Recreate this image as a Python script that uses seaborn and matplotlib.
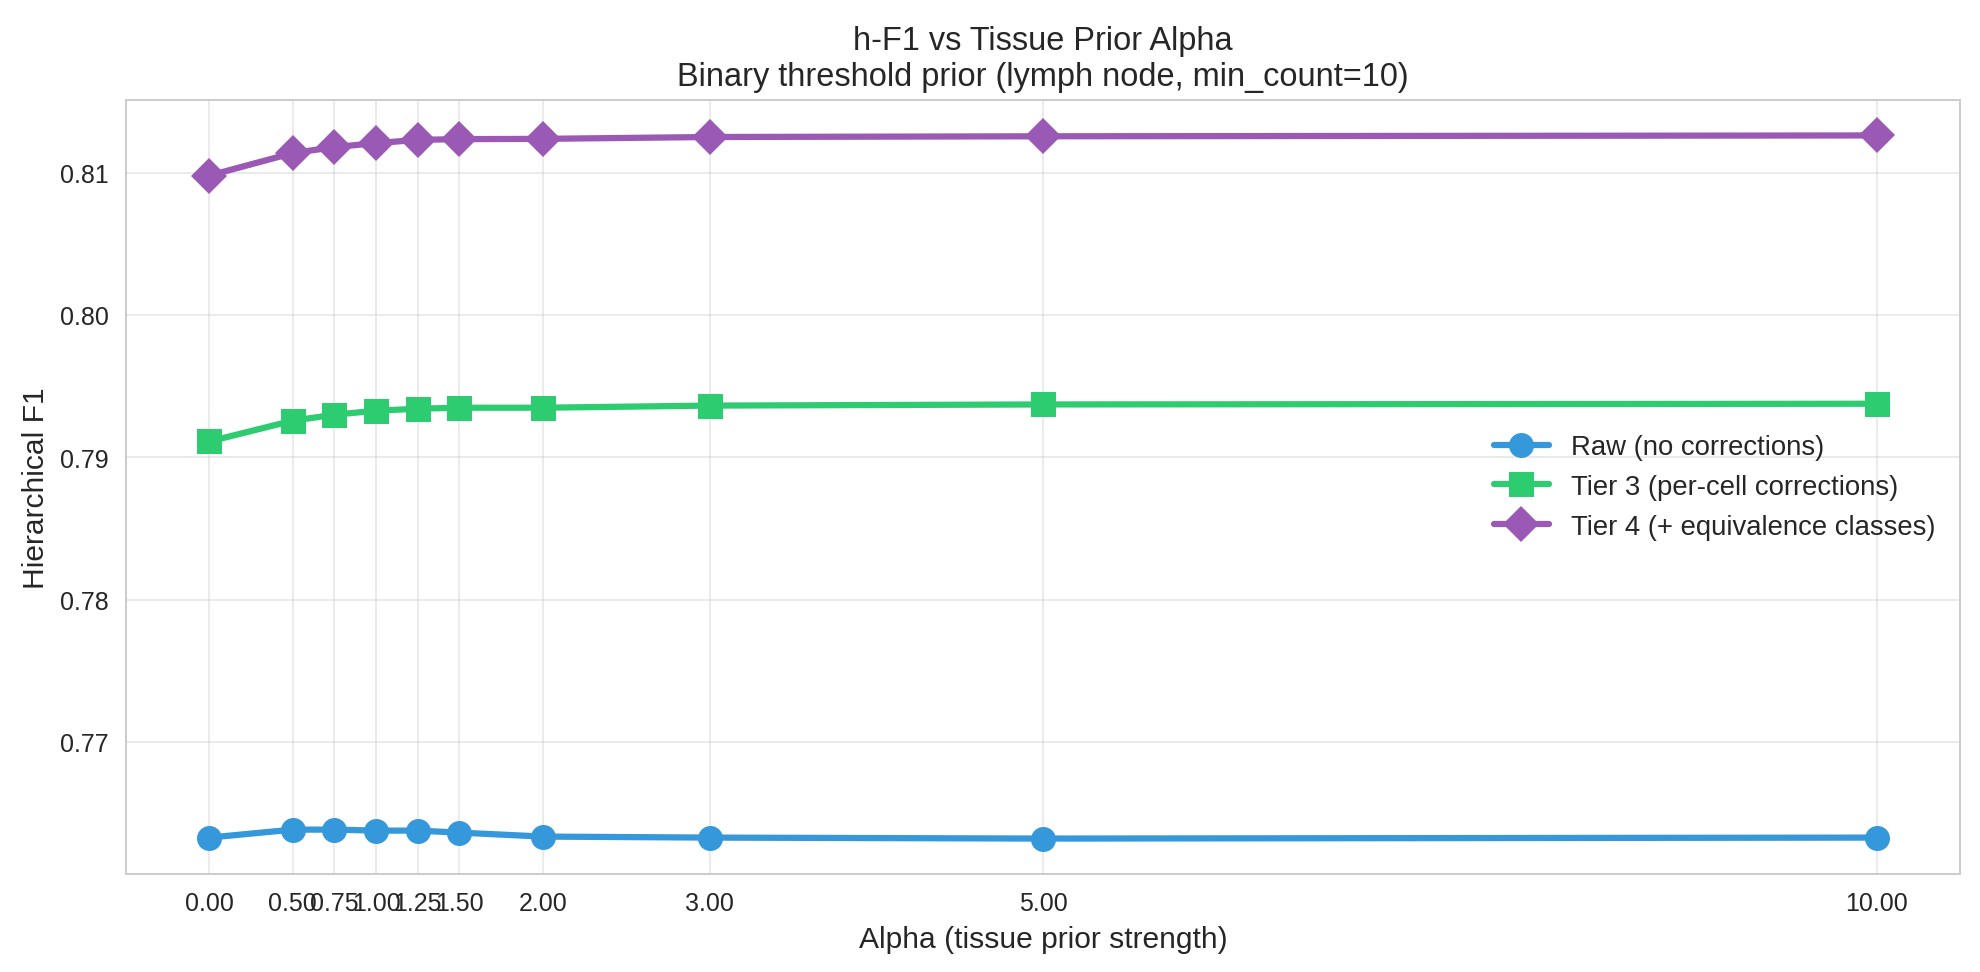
import seaborn as sns
import matplotlib.pyplot as plt
import pandas as pd

# alpha values swept
alphas = [0.0, 0.5, 0.75, 1.0, 1.25, 1.5, 2.0, 3.0, 5.0, 10.0]

# h-F1 per tier
raw_f1 = [0.76329, 0.76385, 0.76385, 0.76378, 0.76378, 0.76364, 0.76336, 0.76329, 0.76322, 0.76329]
tier3_f1 = [0.79112, 0.79258, 0.79300, 0.79328, 0.79342, 0.79349, 0.79349, 0.79364, 0.79372, 0.79377]
tier4_f1 = [0.80980, 0.81138, 0.81180, 0.81208, 0.81231, 0.81236, 0.81238, 0.81251, 0.81256, 0.81262]

series_names = ['Raw (no corrections)', 'Tier 3 (per-cell corrections)', 'Tier 4 (+ equivalence classes)']
colors = ['#3498db', '#2ecc71', '#9b59b6']
markers = ['o', 's', 'D']

df = pd.DataFrame({
    'alpha': alphas * 3,
    'f1': raw_f1 + tier3_f1 + tier4_f1,
    'series': [series_names[0]] * len(alphas) + [series_names[1]] * len(alphas) + [series_names[2]] * len(alphas),
})

sns.set_style('whitegrid')
plt.rcParams['font.family'] = ['Liberation Sans', 'DejaVu Sans']

fig, ax = plt.subplots(figsize=(11.005, 5.405))

for name, c, m in zip(series_names, colors, markers):
    sub = df[df['series'] == name]
    sns.lineplot(data=sub, x='alpha', y='f1', ax=ax, color=c, marker=m,
                 markersize=10, markeredgewidth=0, linewidth=2.5, label=name)

ax.set_xticks(alphas)
ax.set_xticklabels([f'{a:.2f}' for a in alphas], fontsize=10)
ax.tick_params(axis='y', labelsize=10)
ax.set_yticks([0.77, 0.78, 0.79, 0.80, 0.81])
ax.set_yticklabels(['0.77', '0.78', '0.79', '0.80', '0.81'])
ax.set_xlabel('Alpha (tissue prior strength)', fontsize=12)
ax.set_ylabel('Hierarchical F1', fontsize=12)
ax.set_title('h-F1 vs Tissue Prior Alpha\nBinary threshold prior (lymph node, min_count=10)', fontsize=13)
ax.grid(True, alpha=0.4)
ax.legend(loc='center right', fontsize=11, frameon=False)

fig.subplots_adjust(left=0.0636, right=0.9894, top=0.896, bottom=0.101)
plt.savefig('out.png', dpi=180)
